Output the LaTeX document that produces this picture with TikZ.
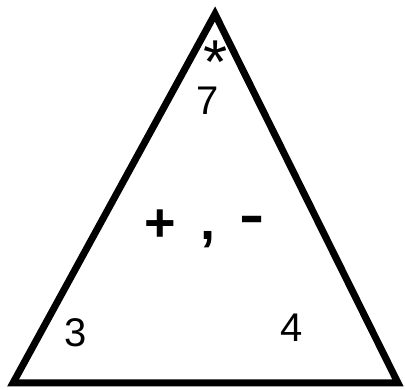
\documentclass[tikz,border=0pt]{standalone}
\usepackage{fontspec}
\setmainfont{Liberation Sans}
\begin{document}
\begin{tikzpicture}[x=1pt,y=-1pt,
  lbl/.style={inner sep=0pt,font=\fontsize{40}{40}\selectfont},
  sym/.style={inner sep=0pt,font=\fontsize{54}{54}\selectfont\bfseries}]
\useasboundingbox (0,0) rectangle (405,390);
\coordinate (A) at (215,14);
\coordinate (B) at (13,383);
\coordinate (C) at (398,383);
\draw[line width=7, line join=miter] (A) -- (B) -- (C) -- cycle;
\node[inner sep=0pt,font=\fontsize{62}{62}\selectfont] (star) at (216,48) {\raisebox{-0.42em}[0.31em][0pt]{*}};
\node[lbl] (seven) at (208,101) {7};
\node[lbl] (three) at (76,333) {3};
\node[lbl] (four) at (292,328) {4};
\node[sym] (plus) at (160,226) {+};
\node[sym] (comma) at (208,240) {,};
\node[sym, xscale=1.4] (minus) at (252,225) {-};
\end{tikzpicture}
\end{document}
